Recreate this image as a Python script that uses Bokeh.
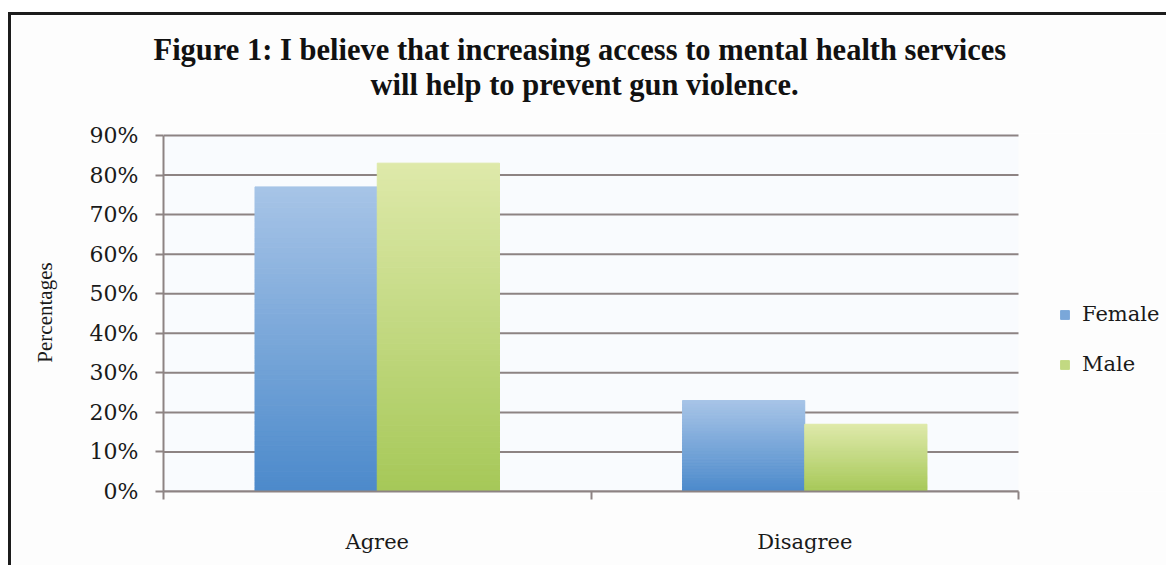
from bokeh.plotting import figure
from bokeh.models import (ColumnDataSource, FixedTicker, Legend, LegendItem, Title,
                          NumeralTickFormatter)
from bokeh.embed import file_html
from bokeh.resources import INLINE

categories = ["Agree", "Disagree"]
female = [0.77, 0.23]
male = [0.83, 0.17]
y_ticks = [0.0, 0.1, 0.2, 0.3, 0.4, 0.5, 0.6, 0.7, 0.8, 0.9]

FEMALE_TOP, FEMALE_BOT = (167, 196, 231), (76, 138, 203)
MALE_TOP, MALE_BOT = (222, 233, 170), (166, 200, 88)
GRID = "#8d8383"
SERIF = "Liberation Serif"
TICKFONT = "DejaVu Serif"

# canvas placed at (11, 15) inside the page because of the CSS border/margins
OX, OY = 11, 15
FRAME_L, FRAME_T, FRAME_B = 163, 133, 491
AX_R = 1018
frame_w = 1169 - FRAME_L
x_end = 2 * frame_w / (AX_R - FRAME_L)

p = figure(width=1169 - OX, height=568 - OY, output_backend="svg", toolbar_location=None,
           x_range=(0, x_end), y_range=(0, 0.905),
           min_border_left=FRAME_L - OX, min_border_right=0,
           min_border_top=FRAME_T - OY, min_border_bottom=568 - FRAME_B,
           styles={"border-top": "3px solid #1c1c1c", "border-left": "3px solid #1c1c1c",
                   "margin-top": "12px", "margin-left": "8px"})
p.background_fill_color = "#fdfdfd"
p.border_fill_color = "#fdfdfd"
p.outline_line_color = None

# plot-area tint and grid lines
p.quad(left=0, right=len(categories), bottom=0, top=y_ticks[-1] + 0.005,
       fill_color="#f9fbfe", line_color=None, level="underlay")
p.segment(x0=[0] * len(y_ticks), x1=[len(categories)] * len(y_ticks),
          y0=y_ticks, y1=y_ticks, line_color=GRID, line_width=2, level="underlay")

N = 60
def hexc(c):
    return "#%02x%02x%02x" % tuple(int(round(v)) for v in c)

def gradient_source(values, offset, top_c, bot_c):
    xs, bots, tops, cols = [], [], [], []
    for i, v in enumerate(values):
        for k in range(N):
            f = (k + 0.5) / N
            c = [bot_c[j] + (top_c[j] - bot_c[j]) * f for j in range(3)]
            xs.append(i + 0.5 + offset)
            bots.append(v * k / N)
            tops.append(v * (k + 1) / N)
            cols.append(hexc(c))
    return ColumnDataSource(dict(x=xs, bottom=bots, top=tops, color=cols))

W = 0.286
src_f = gradient_source(female, -W / 2, FEMALE_TOP, FEMALE_BOT)
src_m = gradient_source(male, W / 2, MALE_TOP, MALE_BOT)
rf = p.vbar(x="x", bottom="bottom", top="top", width=W, fill_color="color",
            line_color="color", line_width=1, source=src_f)
rm = p.vbar(x="x", bottom="bottom", top="top", width=W, fill_color="color",
            line_color="color", line_width=1, source=src_m)

# axes
p.xaxis.bounds = (0, len(categories))
p.xaxis.ticker = FixedTicker(ticks=[0.5, 1.5], minor_ticks=[0, 1, 2])
p.xaxis.major_label_overrides = {0.5: categories[0], 1.5: categories[1]}
p.xaxis.major_tick_out = 0
p.xaxis.major_tick_in = 0
p.xaxis.minor_tick_out = 8
p.xaxis.minor_tick_in = 0
p.xaxis.minor_tick_line_color = GRID
p.xaxis.minor_tick_line_width = 2
p.xaxis.major_label_standoff = 30
p.xaxis.major_label_text_font = TICKFONT
p.xaxis.major_label_text_font_size = "21px"
p.xaxis.major_label_text_color = "#1a1a1a"
p.xaxis.axis_line_color = GRID
p.xaxis.axis_line_width = 2

p.yaxis.bounds = (0, 0.9)
p.yaxis.ticker = FixedTicker(ticks=y_ticks)
p.yaxis.formatter = NumeralTickFormatter(format="0%")
p.yaxis.major_tick_out = 8
p.yaxis.major_tick_in = 0
p.yaxis.minor_tick_line_color = None
p.yaxis.major_tick_line_color = GRID
p.yaxis.major_tick_line_width = 2
p.yaxis.axis_line_color = GRID
p.yaxis.axis_line_width = 2
p.yaxis.major_label_standoff = 17
p.yaxis.major_label_text_font = TICKFONT
p.yaxis.major_label_text_font_size = "22px"
p.yaxis.major_label_text_color = "#1a1a1a"
p.yaxis.axis_label = "Percentages"
p.yaxis.axis_label_text_font = SERIF
p.yaxis.axis_label_text_font_style = "normal"
p.yaxis.axis_label_text_font_size = "21px"
p.yaxis.axis_label_text_color = "#1a1a1a"
p.yaxis.axis_label_standoff = 30

p.xgrid.grid_line_color = None
p.ygrid.grid_line_color = None

# title (two lines, left-aligned with pixel offsets to mimic centring)
t2 = Title(text="will help to prevent gun violence.", align="left",
           text_font=SERIF, text_font_size="30.5px", text_font_style="bold",
           text_color="#111111", standoff=64, offset=370 - FRAME_L)
t1 = Title(text="Figure 1: I believe that increasing access to mental health services",
           align="left", text_font=SERIF, text_font_size="30.5px",
           text_font_style="bold", text_color="#111111", standoff=-66,
           offset=153 - FRAME_L)
p.add_layout(t2, "above")
p.add_layout(t1, "above")

legend = Legend(items=[LegendItem(label="Female", renderers=[rf], index=N // 2),
                       LegendItem(label="Male", renderers=[rm], index=N // 2)],
                location=(1059 - FRAME_L, FRAME_B - 376), orientation="vertical",
                glyph_width=11, glyph_height=11, label_standoff=12,
                label_height=21, spacing=26, padding=0, margin=0,
                label_text_font=TICKFONT, label_text_font_size="21px",
                label_text_color="#1a1a1a", border_line_color=None,
                background_fill_alpha=0)
p.add_layout(legend)

open("out.html", "w").write(file_html(p, INLINE))
